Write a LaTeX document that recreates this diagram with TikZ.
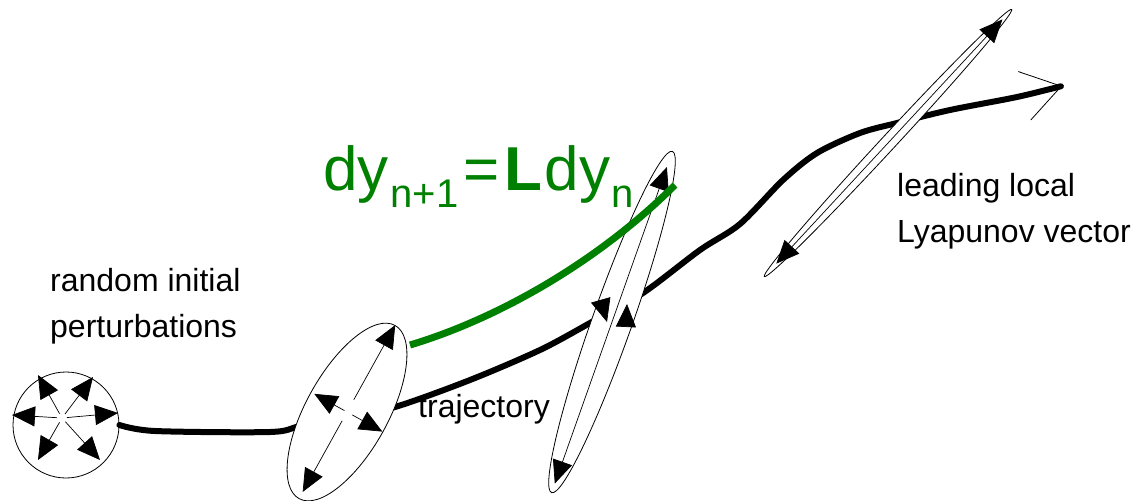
\documentclass[tikz,border=0pt]{standalone}
\usepackage{fontspec}
\setmainfont{Liberation Sans}
\usetikzlibrary{arrows.meta,shapes.geometric}

\definecolor{eqgreen}{RGB}{0,128,0}

\begin{document}
\begin{tikzpicture}[
        x=1pt, y=-1pt,
        font=\fontsize{32}{46}\selectfont,
        blob/.style={draw, fill=white, line width=0.8pt, ellipse, inner sep=0pt},
        vec/.style={-{Triangle[length=23pt, width=20pt]}, line width=0.7pt},
        traj/.style={line width=6pt, line cap=round, line join=round},
        evolve/.style={draw=eqgreen, line width=7pt},
        lbl/.style={inner sep=0pt, align=left}
    ]
    \useasboundingbox (0,0) rectangle (1131,500);

    % initial cloud of perturbations
    \node[draw, circle, fill=white, minimum size=106pt, inner sep=0pt, line width=0.8pt] (pert) at (66,425) {};
    \coordinate (o) at (62,418);
    \coordinate (pul) at (38,375);
    \coordinate (pur) at (93,377);
    \coordinate (pr) at (118,413);
    \coordinate (pl) at (12,415);
    \coordinate (pdl) at (38,460);
    \coordinate (pdr) at (100,460);
    \foreach \p in {pul,pur,pr,pl,pdl,pdr}
        \draw[vec, shorten <=5pt] (o) -- (\p);

    % trajectory
    \coordinate (tend) at (1062,86);
    \draw[traj, -{Straight Barb[length=38pt, width=50pt, line width=0.8pt]}]
        plot[smooth, tension=0.5] coordinates {(pert.east) (155,431) (270,432) (300,426) (350,415) (395,407)
        (470,380) (540,350) (590,323) (643,293) (700,250) (740,224) (783,180) (817,153) (860,133)
        (897,123) (950,110) (1017,97) (tend)};

    % evolved ellipses
    \node[blob, minimum width=198pt, minimum height=82pt, rotate=61] (e1) at (347,412) {};
    \draw[vec, shorten <=14pt] (e1.center) -- (e1.east);
    \draw[vec, shorten <=10pt, shorten >=8pt] (e1.center) -- (e1.west);
    \draw[vec, shorten <=3pt, shorten >=4pt] (e1.center) -- (e1.north);
    \draw[vec, shorten <=6pt, shorten >=1pt] (e1.center) -- (e1.south);

    \node[blob, minimum width=362pt, minimum height=40pt, rotate=70.5] (e2) at (612,322) {};
    \draw[vec, shorten >=17pt] (e2.center) -- (e2.east);
    \draw[vec, shorten >=10pt] (e2.center) -- (e2.west);
    \coordinate (m1) at (601,301);
    \coordinate (m1t) at (607,322);
    \coordinate (m2) at (626,325);
    \coordinate (m2t) at (627,304);
    \draw[vec] (m1) -- (m1t);
    \draw[vec] (m2) -- (m2t);

    \node[blob, minimum width=364pt, minimum height=15pt, rotate=47.2] (e3) at (888,143) {};
    \draw[vec, shorten >=14pt] (e3.center) -- (e3.east);
    \draw[vec, shorten >=18pt] (e3.center) -- (e3.west);

    % linear propagation
    \coordinate (g0) at (410,345);
    \coordinate (g1) at (675,185);
    \draw[evolve] (g0) .. controls (500,318) and (600,260) .. (g1);

    % labels
    \node[lbl, anchor=north west] (rip) at (50,268) {random initial\\perturbations};
    \node[lbl, anchor=base west] (trj) at (418,417) {trajectory};
    \node[lbl, anchor=north west] (llv) at (897,173) {leading local\\Lyapunov vector};
    \node[anchor=base west, inner sep=0pt, text=eqgreen, font=\fontsize{62}{62}\selectfont] (eqn) at (323,190)
        {dy\hspace{2pt}\raisebox{-17pt}{\fontsize{40}{40}\selectfont n+1}\hspace{5pt}=\hspace{5pt}\textbf{L}\hspace{2pt}dy\hspace{1pt}\raisebox{-17pt}{\fontsize{40}{40}\selectfont n}};
\end{tikzpicture}
\end{document}
